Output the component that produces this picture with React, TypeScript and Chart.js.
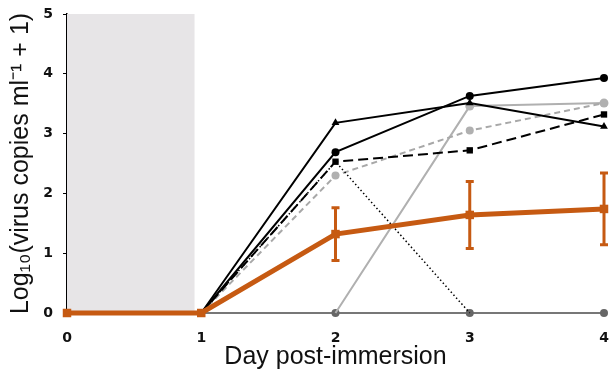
import React, { useEffect, useRef } from "react";
import { Chart, registerables } from "chart.js";

Chart.register(...registerables);

const days = [0, 1, 2, 3, 4];
const xTickLabels = ["0", "1", "2", "3", "4"];
const yTickValues = [0, 1, 2, 3, 4, 5];
const shadeRange = [0, 0.95];

const meanValues = [0, 0, 1.32, 1.64, 1.74];
const meanSd = [0, 0, 0.44, 0.56, 0.6];
const circleBlack = [null, 0, 2.69, 3.63, 3.93];
const triangleBlack = [null, 0, 3.18, 3.51, 3.12];
const squareBlack = [null, 0, 2.53, 2.72, 3.32];
const dottedBlack = [null, 0, 2.53, 0, null];
const dashedGray = [null, 0, 2.3, 3.05, 3.51];
const solidGray = [null, null, 0, 3.46, 3.51];
const zeroGray = [null, 0, 0, 0, 0];

const ORANGE = "#c65a12";

const pts = (vals: (number | null)[]) =>
  days.map((d, i) => ({ x: d, y: vals[i] as any }));

const shadePlugin = {
  id: "shade",
  beforeDatasetsDraw(chart: any) {
    const { ctx, scales } = chart;
    const x0 = scales.x.getPixelForValue(shadeRange[0]);
    const x1 = scales.x.getPixelForValue(shadeRange[1]);
    const y0 = scales.y.getPixelForValue(5);
    const y1 = scales.y.getPixelForValue(0);
    ctx.save();
    ctx.fillStyle = "#e7e5e7";
    ctx.fillRect(x0, y0, x1 - x0, y1 - y0);
    ctx.restore();
  },
};

const errorBarPlugin = {
  id: "errbars",
  afterDatasetsDraw(chart: any) {
    const { ctx, scales } = chart;
    ctx.save();
    ctx.strokeStyle = ORANGE;
    ctx.lineWidth = 3;
    days.forEach((d, i) => {
      const sd = meanSd[i];
      if (!sd) return;
      const x = scales.x.getPixelForValue(d);
      const yt = scales.y.getPixelForValue(meanValues[i] + sd);
      const yb = scales.y.getPixelForValue(meanValues[i] - sd);
      ctx.beginPath();
      ctx.moveTo(x, yt);
      ctx.lineTo(x, yb);
      ctx.moveTo(x - 4, yt);
      ctx.lineTo(x + 4, yt);
      ctx.moveTo(x - 4, yb);
      ctx.lineTo(x + 4, yb);
      ctx.stroke();
    });
    ctx.restore();
  },
};

export default function App() {
  const ref = useRef<HTMLCanvasElement>(null);
  useEffect(() => {
    if (!ref.current) return;
    const common = { clip: false as any, pointBorderWidth: 0 };
    const chart = new Chart(ref.current, {
      type: "line",
      data: {
        datasets: [
          {
            ...common,
            data: pts(meanValues),
            borderColor: ORANGE,
            backgroundColor: ORANGE,
            borderWidth: 5,
            pointStyle: "rect",
            pointRadius: 6,
          },
          {
            ...common,
            data: pts(circleBlack),
            borderColor: "#000",
            backgroundColor: "#000",
            borderWidth: 2,
            pointStyle: "circle",
            pointRadius: [0, 0, 4, 4, 4],
          },
          {
            ...common,
            data: pts(triangleBlack),
            borderColor: "#000",
            backgroundColor: "#000",
            borderWidth: 2,
            pointStyle: "triangle",
            pointRadius: [0, 0, 4.5, 4.5, 4.5],
          },
          {
            ...common,
            data: pts(squareBlack),
            borderColor: "#000",
            backgroundColor: "#000",
            borderWidth: 2,
            borderDash: [10, 5],
            pointStyle: "rect",
            pointRadius: [0, 0, 4.5, 4.5, 4.5],
          },
          {
            ...common,
            data: pts(dottedBlack),
            borderColor: "#000",
            borderWidth: 1.5,
            borderDash: [1.5, 2.5],
            pointRadius: 0,
          },
          {
            ...common,
            data: pts(dashedGray),
            borderColor: "#a8a8a8",
            backgroundColor: "#b0b0b0",
            borderWidth: 2,
            borderDash: [6, 4],
            pointStyle: "circle",
            pointRadius: [0, 0, 4, 4, 4],
          },
          {
            ...common,
            data: pts(solidGray),
            borderColor: "#b0b0b0",
            backgroundColor: "#b4b4b4",
            borderWidth: 2,
            pointStyle: "circle",
            pointRadius: [0, 0, 0, 4.5, 4.5],
          },
          {
            ...common,
            data: pts(zeroGray),
            borderColor: "#777",
            backgroundColor: "#666",
            borderWidth: 2.2,
            pointStyle: "circle",
            pointRadius: [0, 0, 4, 4, 4],
          },
        ],
      },
      options: {
        animation: false,
        responsive: false,
        spanGaps: false,
        layout: { padding: { top: 14, right: 9, left: 0, bottom: 0 } },
        plugins: { legend: { display: false }, tooltip: { enabled: false } },
        scales: {
          x: {
            type: "linear",
            min: 0,
            max: 4,
            afterBuildTicks: (s: any) => {
              s.ticks = days.map((v) => ({ value: v }));
            },
            afterFit: (s: any) => {
              s.height = 59;
              s.paddingRight = 0;
              s.paddingLeft = 0;
            },
            grid: { display: false, drawTicks: false },
            border: { display: false },
            ticks: {
              padding: 17,
              color: "#111",
              font: { family: "DejaVu Sans", weight: "bold", size: 14 },
              callback: (_v: any, i: number) => xTickLabels[i],
            },
            title: {
              display: true,
              text: "Day post-immersion",
              color: "#111",
              font: { family: "Liberation Sans", size: 25 },
              padding: { top: -6, bottom: 0 },
            },
          },
          y: {
            type: "linear",
            min: 0,
            max: 5,
            afterBuildTicks: (s: any) => {
              s.ticks = yTickValues.map((v) => ({ value: v }));
            },
            afterFit: (s: any) => {
              s.width = 67;
              s.paddingTop = 0;
              s.paddingBottom = 0;
            },
            grid: {
              drawOnChartArea: false,
              drawTicks: true,
              tickLength: 4,
              color: "#000",
            },
            border: { display: true, color: "#000", width: 1.5 },
            ticks: {
              padding: 10,
              color: "#111",
              font: { family: "DejaVu Sans", weight: "bold", size: 14 },
            },
            title: {
              display: true,
              text: "Log₁₀(virus copies ml⁻¹ + 1)",
              color: "#111",
              font: { family: "Liberation Sans", size: 25 },
              padding: { top: 6, bottom: 0 },
            },
          },
        },
      },
      plugins: [shadePlugin, errorBarPlugin],
    } as any);
    return () => chart.destroy();
  }, []);
  return (
    <div style={{ position: "fixed", left: 0, top: 0, width: 613, height: 372, background: "#fff" }}>
      <canvas ref={ref} width={613} height={372} style={{ width: 613, height: 372 }} />
    </div>
  );
}
